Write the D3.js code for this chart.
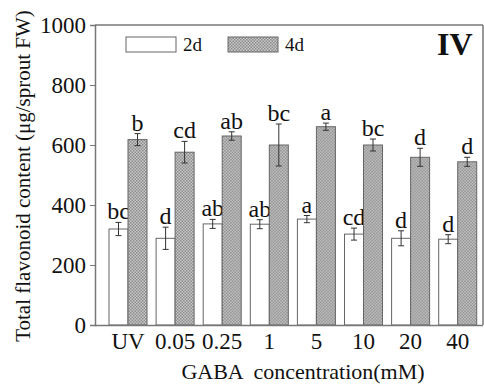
<!DOCTYPE html>
<html><head><meta charset="utf-8">
<script src="https://cdn.jsdelivr.net/npm/d3@7"></script>
<style>body{margin:0;background:#fff}svg{display:block}text{font-family:"Liberation Serif","Times New Roman",serif}</style>
</head><body><svg id="c" width="484" height="389"></svg>
<script>
const categories = ["UV","0.05","0.25","1","5","10","20","40"];
const series = ["2d","4d"];
const values2d = [320,289,337,336,353,303,289,286];
const errors2d = [22,37,15,15,12,20,25,15];
const letters2d = ["bc","d","ab","ab","a","cd","d","d"];
const values4d = [618,576,630,600,661,600,559,544];
const errors4d = [20,36,14,70,12,20,30,15];
const letters4d = ["b","cd","ab","bc","a","bc","d","d"];
const yTicks = [0,200,400,600,800,1000];

const svg = d3.select("#c");
const defs = svg.append("defs");
const pat = defs.append("pattern").attr("id","hatch").attr("patternUnits","userSpaceOnUse").attr("width",3).attr("height",3);
pat.append("rect").attr("width",3).attr("height",3).attr("fill","#cacaca");
pat.append("rect").attr("width",1.5).attr("height",1.5).attr("fill","#8a8a8a");
pat.append("rect").attr("x",1.5).attr("y",1.5).attr("width",1.5).attr("height",1.5).attr("fill","#8a8a8a");

const L=95, R=483, T=25, B=325;
const y = d3.scaleLinear().domain([0,1000]).range([B,T]);
const step=47.1, pi=0.193, po=0.1, x0=109;
const x = d3.scaleBand().domain(categories).range([x0-po*step, x0-po*step+step*(8-pi+2*po)]).paddingInner(pi).paddingOuter(po);
const xs = d3.scaleBand().domain(series).range([0, x.bandwidth()]);

const axisColor="#777";
svg.append("line").attr("x1",L).attr("x2",R).attr("y1",T).attr("y2",T).attr("stroke",axisColor).attr("stroke-width",1.5);
svg.append("line").attr("x1",R).attr("x2",R).attr("y1",T).attr("y2",B).attr("stroke",axisColor).attr("stroke-width",1.5);

const data = categories.map((c,i)=>({c, s:[
  {k:"2d", v:values2d[i], e:errors2d[i], l:letters2d[i]},
  {k:"4d", v:values4d[i], e:errors4d[i], l:letters4d[i]}]}));

const g = svg.append("g");
const grp = g.selectAll("g.grp").data(data).join("g").attr("transform",d=>`translate(${x(d.c)},0)`);
const bar = grp.selectAll("g.b").data(d=>d.s).join("g");
bar.append("rect").attr("x",d=>xs(d.k)).attr("width",xs.bandwidth()).attr("y",d=>y(d.v)).attr("height",d=>B-y(d.v))
  .attr("fill",d=>d.k==="2d"?"#fff":"url(#hatch)").attr("stroke","#666").attr("stroke-width",1);
const cx = d=>xs(d.k)+xs.bandwidth()/2;
bar.append("line").attr("x1",cx).attr("x2",cx).attr("y1",d=>y(d.v+d.e)).attr("y2",d=>y(d.v-d.e)).attr("stroke","#333").attr("stroke-width",1);
bar.append("line").attr("x1",d=>cx(d)-3).attr("x2",d=>cx(d)+3).attr("y1",d=>y(d.v+d.e)).attr("y2",d=>y(d.v+d.e)).attr("stroke","#333");
bar.append("line").attr("x1",d=>cx(d)-3).attr("x2",d=>cx(d)+3).attr("y1",d=>y(d.v-d.e)).attr("y2",d=>y(d.v-d.e)).attr("stroke","#333");
bar.append("text").attr("x",cx).attr("y",d=>y(d.v+d.e)-3).attr("text-anchor","middle").attr("font-size",24).attr("fill","#111").text(d=>d.l);

const ya = svg.append("g").attr("transform",`translate(${L},0)`).call(d3.axisLeft(y).tickValues(yTicks).tickFormat(d3.format("d")).tickSize(5).tickPadding(4));
ya.select(".domain").attr("stroke",axisColor).attr("stroke-width",1.5);
ya.selectAll(".tick line").attr("stroke",axisColor);
ya.selectAll("text").attr("font-size",23).attr("fill","#111").attr("font-family","Liberation Serif,serif");
const xa = svg.append("g").attr("transform",`translate(0,${B})`).call(d3.axisBottom(x).tickSize(0).tickPadding(8).tickSizeOuter(0));
xa.select(".domain").attr("d",`M${L},0.5H${R}`).attr("stroke",axisColor).attr("stroke-width",1.5);
xa.selectAll("text").attr("font-size",23).attr("fill","#111").attr("font-family","Liberation Serif,serif");

svg.append("text").attr("transform","translate(30,176) rotate(-90)").attr("text-anchor","middle").attr("font-size",21).attr("fill","#111").text("Total flavonoid content (μg/sprout FW)");
svg.append("text").attr("x",303).attr("y",379).attr("text-anchor","middle").attr("font-size",22).attr("fill","#111").attr("xml:space","preserve").text("GABA  concentration(mM)");

const leg = svg.append("g");
const legItems = [{k:"2d",x:126,fill:"#fff"},{k:"4d",x:228,fill:"url(#hatch)"}];
leg.selectAll("rect").data(legItems).join("rect").attr("x",d=>d.x).attr("y",37).attr("width",50).attr("height",15).attr("fill",d=>d.fill).attr("stroke","#666");
leg.selectAll("text").data(legItems).join("text").attr("x",d=>d.x+57).attr("y",51).attr("font-size",19).attr("fill","#111").text(d=>d.k);
svg.append("text").attr("x",437).attr("y",55).attr("font-size",32).attr("font-weight","bold").attr("fill","#111").text("IV");
</script></body></html>
